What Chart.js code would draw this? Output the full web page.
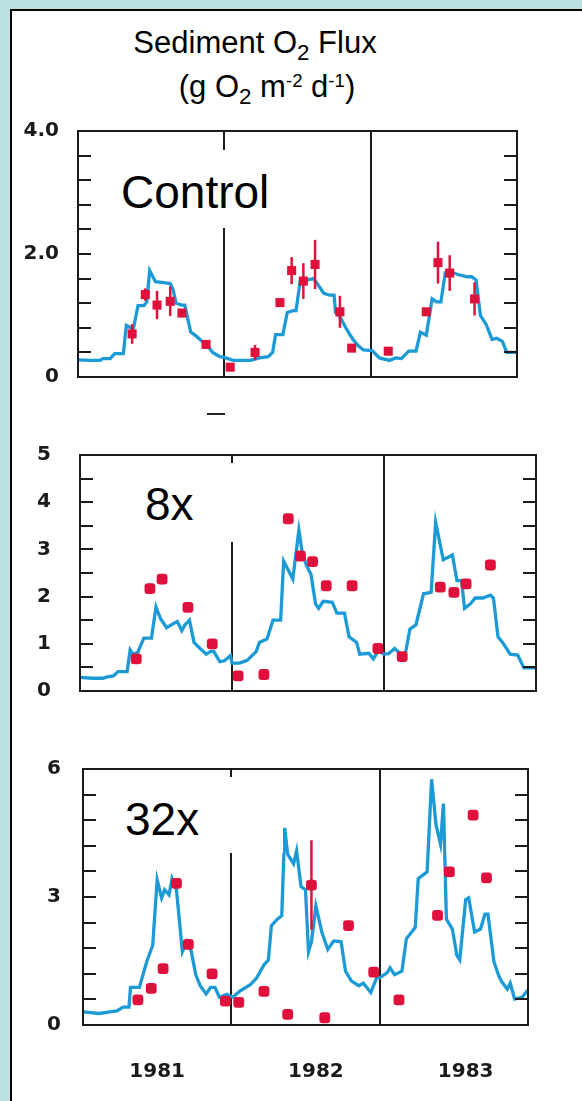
<!DOCTYPE html>
<html>
<head>
<meta charset="utf-8">
<title>Sediment O2 Flux</title>
<script src="https://cdn.jsdelivr.net/npm/chart.js@4.4.1/dist/chart.umd.min.js"></script>
<style>
html, body { margin: 0; padding: 0; }
body { width: 582px; height: 1101px; background: #bde0e3; position: relative; overflow: hidden;
       font-family: "Liberation Sans", Arial, sans-serif; color: #000; }
#sheet { position: absolute; left: 10px; top: 9px; width: 572px; height: 1092px; background: #fff;
         border-top: 2px solid #000; border-left: 2px solid #000; box-sizing: border-box; }
.title { position: absolute; width: 400px; text-align: center; font-size: 31px; line-height: 36px; white-space: nowrap; }
.title sub { font-size: 0.72em; vertical-align: -0.32em; line-height: 0; }
.title sup { font-size: 0.6em; vertical-align: 0.55em; line-height: 0; }
.panel { position: absolute; left: 0; width: 582px; }
.tagbox { position: absolute; background: #fff; }
.tag { position: absolute; font-size: 46px; line-height: 46px; white-space: nowrap; }
#dash { position: absolute; left: 207px; top: 413px; width: 18px; height: 2px; background: #222; }
</style>
</head>
<body>
<div id="sheet"></div>
<div class="title" style="left:55px; top:25px;">Sediment O<sub>2</sub> Flux</div>
<div class="title" style="left:67px; top:69px;">(g O<sub>2</sub> m<sup>-2</sup> d<sup>-1</sup>)</div>

<div class="panel" id="p1"><canvas></canvas></div>
<div class="panel" id="p2"><canvas></canvas></div>
<div class="panel" id="p3"><canvas></canvas></div>

<div class="tagbox" style="left:108px; top:150px; width:182px; height:78px;"></div>
<div class="tag" style="left:121px; top:169px;">Control</div>
<div class="tagbox" style="left:125px; top:463px; width:125px; height:79px;"></div>
<div class="tag" style="left:145px; top:481px;">8x</div>
<div class="tagbox" style="left:105px; top:777px; width:178px; height:76px;"></div>
<div class="tag" style="left:125px; top:796px;">32x</div>
<div id="dash"></div>

<script>
// x axis: one panel per year, labels near mid-year
const xLabels = ['1981', '1982', '1983'];
const xLabelPos = [1981.5, 1982.57, 1983.58];
const yearBounds = [1982, 1983];

// Control: model (line)
const ctrlModelT = [1981.00, 1981.08, 1981.15, 1981.17, 1981.22, 1981.25, 1981.31, 1981.33, 1981.36, 1981.38,
  1981.41, 1981.45, 1981.47, 1981.49, 1981.53, 1981.60, 1981.63, 1981.65, 1981.67, 1981.71,
  1981.73, 1981.75, 1981.77, 1981.80, 1981.83, 1981.86, 1981.88, 1981.92, 1981.97, 1982.00,
  1982.06, 1982.10, 1982.18, 1982.24, 1982.30, 1982.33, 1982.35, 1982.40, 1982.43, 1982.47,
  1982.49, 1982.52, 1982.57, 1982.61, 1982.64, 1982.68, 1982.72, 1982.75, 1982.76, 1982.79,
  1982.83, 1982.86, 1982.88, 1982.91, 1982.95, 1983.01, 1983.06, 1983.13, 1983.17, 1983.21,
  1983.26, 1983.31, 1983.34, 1983.38, 1983.42, 1983.45, 1983.48, 1983.51, 1983.54, 1983.59,
  1983.66, 1983.69, 1983.72, 1983.75, 1983.79, 1983.83, 1983.86, 1983.90, 1983.93, 1984.00];
const ctrlModelV = [0.28, 0.27, 0.27, 0.30, 0.30, 0.38, 0.38, 0.84, 0.80, 0.80,
  1.16, 1.16, 1.22, 1.73, 1.55, 1.53, 1.52, 1.42, 1.20, 1.17,
  1.17, 0.95, 0.73, 0.68, 0.62, 0.55, 0.53, 0.40, 0.33, 0.32,
  0.27, 0.27, 0.27, 0.31, 0.33, 0.40, 0.69, 0.69, 1.05, 1.08,
  1.08, 1.58, 1.58, 1.60, 1.50, 1.36, 1.33, 1.33, 1.05, 0.98,
  0.80, 0.68, 0.61, 0.52, 0.44, 0.43, 0.31, 0.27, 0.31, 0.30,
  0.42, 0.42, 0.73, 0.68, 1.27, 1.22, 1.22, 1.70, 1.72, 1.67,
  1.63, 1.63, 1.58, 1.00, 0.85, 0.61, 0.63, 0.58, 0.40, 0.40];
// Control: observed (points, with error bars)
const ctrlObsT = [1981.37, 1981.46, 1981.54, 1981.63, 1981.71, 1981.875, 1982.04, 1982.21, 1982.38, 1982.46,
  1982.54, 1982.62, 1982.79, 1982.87, 1983.12, 1983.38, 1983.46, 1983.54, 1983.71];
const ctrlObsV = [0.70, 1.34, 1.17, 1.23, 1.04, 0.53, 0.16, 0.40, 1.21, 1.73,
  1.56, 1.83, 1.06, 0.47, 0.42, 1.06, 1.86, 1.69, 1.27];
const ctrlObsErr = [0.16, 0.10, 0.23, 0.24, 0.05, 0, 0, 0.12, 0.03, 0.22,
  0.29, 0.40, 0.26, 0.05, 0, 0.05, 0.34, 0.29, 0.27];

// 8x
const x8ModelT = [1981.00, 1981.08, 1981.15, 1981.18, 1981.22, 1981.25, 1981.31, 1981.33, 1981.35, 1981.38,
  1981.42, 1981.47, 1981.50, 1981.53, 1981.57, 1981.60, 1981.64, 1981.67, 1981.69, 1981.72,
  1981.75, 1981.79, 1981.83, 1981.86, 1981.88, 1981.92, 1981.95, 1981.99, 1982.00, 1982.05,
  1982.10, 1982.16, 1982.18, 1982.23, 1982.27, 1982.32, 1982.34, 1982.38, 1982.40, 1982.44,
  1982.46, 1982.49, 1982.52, 1982.55, 1982.57, 1982.60, 1982.66, 1982.69, 1982.74, 1982.77,
  1982.82, 1982.84, 1982.90, 1982.93, 1982.96, 1983.00, 1983.03, 1983.07, 1983.11, 1983.14,
  1983.17, 1983.21, 1983.26, 1983.31, 1983.34, 1983.39, 1983.45, 1983.48, 1983.51, 1983.53,
  1983.57, 1983.60, 1983.65, 1983.70, 1983.72, 1983.75, 1983.78, 1983.83, 1983.88, 1983.92, 1984.00];
const x8ModelV = [0.29, 0.27, 0.27, 0.30, 0.32, 0.41, 0.41, 0.87, 0.78, 0.82,
  1.12, 1.12, 1.78, 1.53, 1.34, 1.40, 1.47, 1.28, 1.40, 1.50,
  1.03, 0.90, 0.78, 0.84, 0.84, 0.62, 0.64, 0.75, 0.59, 0.59,
  0.65, 0.84, 1.03, 1.10, 1.50, 1.50, 2.75, 2.50, 2.37, 3.41,
  2.97, 2.66, 2.47, 1.84, 1.75, 1.90, 1.88, 1.65, 1.65, 1.15,
  1.03, 0.78, 0.80, 0.68, 0.84, 0.78, 0.79, 0.90, 0.78, 0.78,
  1.31, 1.40, 2.06, 2.09, 3.57, 2.78, 2.88, 2.34, 2.34, 1.75,
  1.85, 1.97, 1.97, 2.03, 1.97, 1.15, 1.03, 0.78, 0.76, 0.49, 0.49];
const x8ObsT = [1981.37, 1981.46, 1981.54, 1981.71, 1981.87, 1982.04, 1982.21, 1982.37, 1982.45, 1982.53,
  1982.62, 1982.79, 1982.96, 1983.12, 1983.37, 1983.46, 1983.54, 1983.70];
const x8ObsV = [0.68, 2.17, 2.37, 1.77, 1.00, 0.32, 0.35, 3.65, 2.86, 2.74,
  2.23, 2.23, 0.90, 0.73, 2.20, 2.09, 2.27, 2.67];

// 32x
const x32ModelT = [1981.00, 1981.11, 1981.18, 1981.23, 1981.27, 1981.31, 1981.32, 1981.38, 1981.43, 1981.47,
  1981.50, 1981.53, 1981.55, 1981.58, 1981.60, 1981.63, 1981.67, 1981.70, 1981.73, 1981.76,
  1981.79, 1981.83, 1981.86, 1981.89, 1981.92, 1981.97, 1982.01, 1982.06, 1982.13, 1982.17,
  1982.22, 1982.25, 1982.27, 1982.31, 1982.34, 1982.36, 1982.38, 1982.42, 1982.44, 1982.47,
  1982.50, 1982.52, 1982.54, 1982.57, 1982.61, 1982.65, 1982.69, 1982.74, 1982.77, 1982.81,
  1982.86, 1982.89, 1982.94, 1982.98, 1983.00, 1983.05, 1983.07, 1983.10, 1983.15, 1983.18,
  1983.24, 1983.26, 1983.32, 1983.35, 1983.38, 1983.41, 1983.43, 1983.45, 1983.49, 1983.52,
  1983.54, 1983.58, 1983.60, 1983.64, 1983.68, 1983.71, 1983.73, 1983.77, 1983.80, 1983.82,
  1983.86, 1983.88, 1983.91, 1983.96, 1984.00];
const x32ModelV = [0.31, 0.27, 0.31, 0.33, 0.42, 0.42, 0.88, 0.88, 1.49, 1.87,
  3.40, 2.98, 3.17, 3.05, 3.43, 3.17, 1.72, 1.95, 1.72, 1.18,
  0.92, 0.73, 0.88, 0.88, 0.65, 0.72, 0.65, 0.80, 0.95, 1.10,
  1.41, 1.53, 2.33, 2.48, 2.56, 4.62, 4.00, 3.78, 4.08, 3.24,
  3.17, 1.72, 1.95, 2.79, 2.18, 1.77, 1.97, 1.95, 1.26, 1.03,
  0.92, 0.98, 0.76, 1.11, 1.11, 1.22, 1.34, 1.18, 1.26, 2.02,
  2.29, 3.43, 3.59, 5.76, 4.69, 4.24, 5.19, 2.48, 2.25, 1.64,
  1.53, 2.94, 2.98, 2.18, 2.25, 2.60, 2.60, 1.49, 1.18, 1.03,
  0.84, 0.98, 0.61, 0.65, 0.82];
const x32ObsT = [1981.37, 1981.46, 1981.54, 1981.63, 1981.71, 1981.87, 1981.96, 1982.05, 1982.22, 1982.38,
  1982.54, 1982.63, 1982.79, 1982.96, 1983.13, 1983.39, 1983.47, 1983.63, 1983.72];
const x32ObsV = [0.59, 0.86, 1.32, 3.32, 1.89, 1.20, 0.56, 0.53, 0.79, 0.25,
  3.28, 0.17, 2.33, 1.24, 0.59, 2.57, 3.59, 4.92, 3.45];
const x32ObsErr = [0, 0, 0, 0, 0, 0, 0, 0, 0, 0,
  1.05, 0, 0, 0, 0, 0, 0, 0, 0];

const lineColor = '#1b9ad6';
const dotColor = '#e0103c';
const inkColor = '#1a1a1a';
const tickFont = { family: 'DejaVu Sans', weight: 'bold', size: 20 };

// frame, year dividers, inward tick marks and error bars
const framePlugin = {
  id: 'frame',
  beforeDatasetsDraw(chart) {
    const a = chart.chartArea, xs = chart.scales.x, ctx = chart.ctx;
    ctx.save();
    ctx.strokeStyle = inkColor;
    ctx.lineWidth = 2;
    yearBounds.forEach(b => {
      const px = Math.round(xs.getPixelForValue(b));
      ctx.beginPath();
      ctx.moveTo(px, a.top);
      ctx.lineTo(px, a.bottom);
      ctx.stroke();
    });
    ctx.restore();
  },
  afterDatasetDraw(chart, args) {
    if (args.index !== 1) return; // after the model line, before the points
    const pts = chart.data.datasets[0].data;
    const xs = chart.scales.x, ys = chart.scales.y, ctx = chart.ctx;
    ctx.save();
    ctx.strokeStyle = dotColor;
    ctx.lineWidth = 2.5;
    pts.forEach(p => {
      if (!p.e) return;
      const px = xs.getPixelForValue(p.x);
      ctx.beginPath();
      ctx.moveTo(px, ys.getPixelForValue(p.y - p.e));
      ctx.lineTo(px, ys.getPixelForValue(p.y + p.e));
      ctx.stroke();
    });
    ctx.restore();
  },
  afterDatasetsDraw(chart) {
    const a = chart.chartArea, ys = chart.scales.y, ctx = chart.ctx;
    ctx.save();
    ctx.strokeStyle = inkColor;
    ctx.lineWidth = 2;
    ys.ticks.forEach(t => {
      if (t.value <= ys.min || t.value >= ys.max) return;
      const py = Math.round(ys.getPixelForValue(t.value));
      ctx.beginPath();
      ctx.moveTo(a.left, py); ctx.lineTo(a.left + 13, py);
      ctx.moveTo(a.right - 13, py); ctx.lineTo(a.right, py);
      ctx.stroke();
    });
    ctx.strokeRect(a.left, a.top, a.right - a.left, a.bottom - a.top);
    ctx.restore();
  }
};

function makePanel(p) {
  const wrap = document.getElementById(p.id);
  const top = p.area.t - 20;
  wrap.style.top = top + 'px';
  wrap.style.height = (p.area.b + p.below - top) + 'px';

  const obs = p.obsT.map((t, i) => ({ x: t, y: p.obsV[i], e: p.obsErr ? p.obsErr[i] : 0 }));
  const model = p.modelT.map((t, i) => ({ x: t, y: p.modelV[i] }));

  new Chart(wrap.querySelector('canvas'), {
    type: 'line',
    data: {
      datasets: [
        { type: 'scatter', data: obs, pointStyle: p.marker, pointRadius: p.markerR,
          backgroundColor: dotColor, borderWidth: 0, showLine: false },
        { data: model, borderColor: lineColor, borderWidth: 3.3, pointRadius: 0,
          tension: 0, fill: false }
      ]
    },
    options: {
      responsive: true,
      maintainAspectRatio: false,
      animation: false,
      layout: { padding: { top: 20, left: 0, right: 582 - p.area.r, bottom: 0 } },
      plugins: { legend: { display: false }, tooltip: { enabled: false } },
      scales: {
        x: {
          type: 'linear', min: 1981, max: 1984,
          grid: { display: false }, border: { display: false },
          afterBuildTicks: s => { s.ticks = xLabelPos.map(v => ({ value: v })); },
          afterFit: s => { s.height = p.below; },
          ticks: { display: p.showX, autoSkip: false, maxRotation: 0, padding: 27,
                   font: tickFont, color: inkColor,
                   callback: (v, i) => xLabels[i] }
        },
        y: {
          min: 0, max: p.yMax,
          grid: { display: false }, border: { display: false },
          afterBuildTicks: s => {
            s.ticks = Array.from({ length: 11 }, (_, i) => ({ value: +(i * p.yStep).toFixed(2) }));
          },
          afterFit: s => { s.width = p.area.l; },
          ticks: {
            padding: p.yPad, font: tickFont, color: inkColor, autoSkip: false,
            callback: v => {
              const k = v / p.yLabelEvery;
              if (Math.abs(k - Math.round(k)) > 1e-6) return '';
              if (v === 0) return '0';
              return v.toFixed(p.yDecimals);
            }
          }
        }
      }
    },
    plugins: [framePlugin]
  });
}

makePanel({ id: 'p1', modelT: ctrlModelT, modelV: ctrlModelV, obsT: ctrlObsT, obsV: ctrlObsV, obsErr: ctrlObsErr,
  yMax: 4, yStep: 0.4, yLabelEvery: 2, yDecimals: 1, yPad: 11,
  area: { l: 78, t: 128, r: 517, b: 384 }, below: 16, showX: false, marker: 'rect', markerR: 6.4 });
makePanel({ id: 'p2', modelT: x8ModelT, modelV: x8ModelV, obsT: x8ObsT, obsV: x8ObsV, obsErr: null,
  yMax: 5, yStep: 0.5, yLabelEvery: 1, yDecimals: 0, yPad: 21,
  area: { l: 80, t: 442, r: 536, b: 708 }, below: 16, showX: false, marker: 'rectRounded', markerR: 6.3 });
makePanel({ id: 'p3', modelT: x32ModelT, modelV: x32ModelV, obsT: x32ObsT, obsV: x32ObsV, obsErr: x32ObsErr,
  yMax: 6, yStep: 0.6, yLabelEvery: 3, yDecimals: 0, yPad: 14,
  area: { l: 83, t: 763, r: 528, b: 1025 }, below: 70, showX: true, marker: 'rectRounded', markerR: 6.3 });
</script>
</body>
</html>
